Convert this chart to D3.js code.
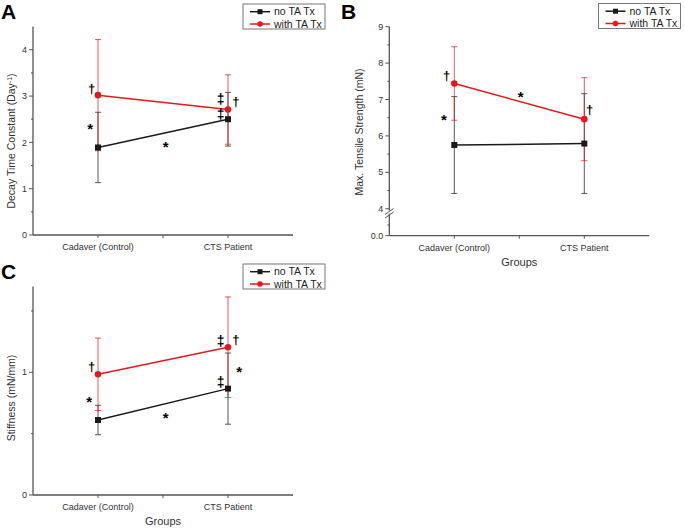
<!DOCTYPE html>
<html><head><meta charset="utf-8">
<script src="https://cdn.jsdelivr.net/npm/d3@7"></script>
<style>body{margin:0;background:#fff}svg{display:block;font-family:"Liberation Sans",Arial,sans-serif}</style>
</head><body><svg id="c" width="685" height="531"></svg>
<script>
const categories = ["Cadaver (Control)", "CTS Patient"];
const seriesNames = ["no TA Tx", "with TA Tx"];

const decayNo = [1.89, 2.50], decayNoErr = [0.76, 0.58];
const decayWith = [3.02, 2.71], decayWithErr = [1.20, 0.75];
const decayTicks = [0, 1, 2, 3, 4];
const decayNotes = [[0.95, 3.17, "†"], [0.94, 2.38, "*"], [1.52, 1.99, "*"], [1.944, 2.94, "‡"], [1.944, 2.61, "‡"], [2.06, 2.89, "†"]];

const strengthNo = [5.75, 5.79], strengthNoErr = [1.33, 1.37];
const strengthWith = [7.44, 6.46], strengthWithErr = [1.01, 1.14];
const strengthTicks = [4, 5, 6, 7, 8, 9];
const strengthLowTicks = [0];
const strengthNotes = [[0.94, 7.67, "†"], [0.92, 6.55, "*"], [1.51, 7.19, "*"], [2.04, 6.73, "†"]];

const stiffNo = [0.611, 0.867], stiffNoErr = [0.12, 0.29];
const stiffWith = [0.984, 1.204], stiffWithErr = [0.295, 0.41];
const stiffTicks = [0, 1];
const stiffNotes = [[0.95, 1.046, "†"], [0.933, 0.79, "*"], [1.52, 0.66, "*"], [1.944, 1.258, "‡"], [2.06, 1.271, "†"], [1.944, 0.923, "‡"], [2.085, 1.041, "*"]];

const RED = "#e3191f", BLK = "#1a1a1a", AX = "#555";
const svg = d3.select("#c");

function panel(o) {
  const g = svg.append("g");
  const x = d3.scaleLinear().domain([0.5, 2.5]).range([o.x0, o.x0 + 260]);
  const y = o.y;
  const xAxisY = y.range()[0];
  g.append("line").attr("x1", o.x0).attr("x2", o.x0).attr("y1", xAxisY).attr("y2", y.range()[y.range().length-1]).attr("stroke", AX).attr("stroke-width", 1.3);
  g.append("line").attr("x1", o.x0).attr("x2", o.x0 + 260).attr("y1", xAxisY).attr("y2", xAxisY).attr("stroke", AX).attr("stroke-width", 1.3);
  o.ticks.forEach((t, i) => {
    g.append("line").attr("x1", o.x0 - 4).attr("x2", o.x0).attr("y1", y(t)).attr("y2", y(t)).attr("stroke", AX).attr("stroke-width", 1);
    g.append("text").attr("x", o.x0 - 6).attr("y", y(t)).attr("dy", "0.35em").attr("text-anchor", "end")
      .attr("font-size", 9).attr("fill", "#333").text(o.tickFmt ? o.tickFmt(t) : t);
  });
  o.minor.forEach(t => {
    g.append("line").attr("x1", o.x0 - 2).attr("x2", o.x0).attr("y1", y(t)).attr("y2", y(t)).attr("stroke", AX).attr("stroke-width", 1);
  });
  [1, 1.5, 2].forEach(v => {
    g.append("line").attr("x1", x(v)).attr("x2", x(v)).attr("y1", xAxisY).attr("y2", xAxisY + 3).attr("stroke", AX).attr("stroke-width", 1);
  });
  categories.forEach((c, i) => {
    g.append("text").attr("x", x(i + 1)).attr("y", xAxisY + 15).attr("text-anchor", "middle").attr("font-size", 9).attr("fill", "#333").text(c);
  });
  if (o.xLabel) g.append("text").attr("x", x(1.5)).attr("y", xAxisY + 30).attr("text-anchor", "middle").attr("font-size", 11).attr("fill", "#333").text(o.xLabel);
  const yl = g.append("text").attr("transform", `translate(${o.ylx},${o.yly}) rotate(-90)`).attr("text-anchor", "middle")
    .attr("font-size", 10.5).attr("fill", "#333");
  o.yLabel(yl);
  const series = [[o.no, o.noErr, BLK, "square"], [o.with, o.withErr, RED, "circle"]];
  series.forEach(([vals, errs, col]) => {
    vals.forEach((v, i) => {
      const cx = x(i + 1);
      g.append("line").attr("x1", cx).attr("x2", cx).attr("y1", y(v - errs[i])).attr("y2", y(v + errs[i])).attr("stroke", col).attr("stroke-width", 0.9).attr("opacity", 0.8);
      [v - errs[i], v + errs[i]].forEach(e => g.append("line").attr("x1", cx - 3).attr("x2", cx + 3).attr("y1", y(e)).attr("y2", y(e)).attr("stroke", col).attr("stroke-width", 0.9).attr("opacity", 0.8));
    });
  });
  series.forEach(([vals, errs, col, shape]) => {
    g.append("path").attr("d", d3.line().x((d, i) => x(i + 1)).y(d => y(d))(vals)).attr("stroke", col).attr("stroke-width", 1.5).attr("fill", "none");
    vals.forEach((v, i) => {
      if (shape === "square") g.append("rect").attr("x", x(i + 1) - 3).attr("y", y(v) - 3).attr("width", 6).attr("height", 6).attr("fill", col);
      else g.append("circle").attr("cx", x(i + 1)).attr("cy", y(v)).attr("r", 3.3).attr("fill", col);
    });
  });
  o.notes.forEach(([nx, ny, s]) => {
    g.append("text").attr("x", x(nx)).attr("y", y(ny)).attr("dy", s === "*" ? "0.62em" : "0.36em").attr("text-anchor", "middle")
      .attr("font-size", s === "*" ? 15 : (s === "‡" ? 14 : 13)).attr("font-weight", "bold").attr("fill", "#000").text(s);
  });
  const lg = g.append("g").attr("transform", `translate(${o.lx},${o.ly})`);
  lg.append("rect").attr("x", 0).attr("y", 0).attr("width", 82).attr("height", 25).attr("fill", "#fff").attr("stroke", "#777").attr("stroke-width", 1);
  [[BLK, "square", 7.7], [RED, "circle", 20]].forEach(([col, shape, yy], k) => {
    lg.append("line").attr("x1", 7).attr("x2", 27).attr("y1", yy).attr("y2", yy).attr("stroke", col).attr("stroke-width", 1.5);
    if (shape === "square") lg.append("rect").attr("x", 14.5).attr("y", yy - 2.5).attr("width", 5).attr("height", 5).attr("fill", col);
    else lg.append("circle").attr("cx", 17).attr("cy", yy).attr("r", 2.8).attr("fill", col);
    lg.append("text").attr("x", 31).attr("y", yy).attr("dy", "0.36em").attr("font-size", 10.5).attr("fill", "#222").text(seriesNames[k]);
  });
  g.append("text").attr("x", o.px).attr("y", o.py).attr("font-size", 21).attr("font-weight", "bold").attr("fill", "#000").text(o.letter);
  return g;
}

panel({
  letter: "A", px: 1, py: 18.5, x0: 33,
  y: d3.scaleLinear().domain([0, 4.5]).range([235, 26.6]),
  ticks: decayTicks, minor: [0.5, 1.5, 2.5, 3.5],
  no: decayNo, noErr: decayNoErr, with: decayWith, withErr: decayWithErr,
  notes: decayNotes, lx: 243, ly: 4, ylx: 15, yly: 141,
  yLabel: t => { t.append("tspan").text("Decay Time Constant (Day"); t.append("tspan").attr("baseline-shift", "super").attr("font-size", 7).text("-1"); t.append("tspan").text(")"); }
});

const gB = panel({
  letter: "B", px: 341, py: 18.5, x0: 389.3,
  y: d3.scaleLinear().domain([0, 0.5, 3.8, 9]).range([235.7, 225, 216, 26.7]),
  ticks: strengthTicks.concat(strengthLowTicks), tickFmt: t => t === 0 ? "0.0" : t,
  minor: [0.5, 4.5, 5.5, 6.5, 7.5, 8.5],
  no: strengthNo, noErr: strengthNoErr, with: strengthWith, withErr: strengthWithErr,
  notes: strengthNotes, lx: 598.5, ly: 3.5, xLabel: "Groups", ylx: 363, yly: 132,
  yLabel: t => t.text("Max. Tensile Strength (mN)")
});
gB.append("rect").attr("x", 388).attr("y", 210.5).attr("width", 3).attr("height", 3.2).attr("fill", "#fff");
[-1.5, 2].forEach(d => {
  gB.append("line").attr("x1", 385).attr("x2", 393.5).attr("y1", 216 + d).attr("y2", 210 + d).attr("stroke", AX).attr("stroke-width", 1);
});

panel({
  letter: "C", px: 1, py: 279, x0: 33,
  y: d3.scaleLinear().domain([0, 1.7]).range([495, 286.4]),
  ticks: stiffTicks, minor: [0.5, 1.5],
  no: stiffNo, noErr: stiffNoErr, with: stiffWith, withErr: stiffWithErr,
  notes: stiffNotes, lx: 243, ly: 264, xLabel: "Groups", ylx: 15, yly: 398,
  yLabel: t => t.text("Stiffness (mN/mm)")
});
</script></body></html>
